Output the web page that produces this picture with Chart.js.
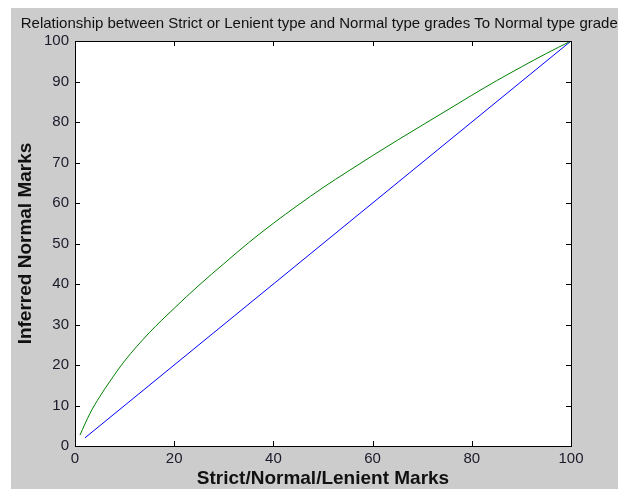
<!DOCTYPE html>
<html>
<head>
<meta charset="utf-8">
<script src="https://cdn.jsdelivr.net/npm/chart.js@4/dist/chart.umd.min.js"></script>
<style>
  html, body { margin: 0; padding: 0; background: #fff; }
  canvas { display: block; }
</style>
</head>
<body>
<canvas id="grafico" width="618" height="489"></canvas>
<script>
// curva verde
const greenX = [1, 3, 5, 7, 10, 15, 20, 25, 30, 35, 40, 45, 50, 55, 60, 65, 70, 75, 80, 85, 90, 95, 100];
const greenY = [2.7, 8.0, 12.2, 15.9, 21.0, 28.0, 34.0, 39.7, 45.0, 50.2, 55.0, 59.5, 63.8, 67.8, 71.7, 75.5, 79.2, 82.9, 86.6, 90.2, 93.6, 96.9, 100];

// reta azul
const blueX = [2, 100];
const blueY = [2, 100];

// eixos
const xTicks = [0, 20, 40, 60, 80, 100];
const yTicks = [0, 10, 20, 30, 40, 50, 60, 70, 80, 90, 100];

const titleText = 'Relationship between Strict or Lenient type and Normal type grades To Normal type grades';
const xTitle = 'Strict/Normal/Lenient Marks';
const yTitle = 'Inferred Normal Marks';

const toPoints = (xs, ys) => xs.map((x, i) => ({ x: x, y: ys[i] }));

// fundo cinza, moldura, ticks para dentro e textos
const matlabStyle = {
    id: 'matlabStyle',
    beforeDraw(chart) {
        const ctx = chart.ctx;
        const a = chart.chartArea;
        ctx.save();
        ctx.fillStyle = '#ffffff';
        ctx.fillRect(0, 0, chart.width, chart.height);
        ctx.fillStyle = '#cccccc';
        ctx.fillRect(11, 8, chart.width - 11, chart.height - 8);
        ctx.fillStyle = '#ffffff';
        ctx.fillRect(a.left, a.top, a.right - a.left, a.bottom - a.top);
        ctx.restore();
    },
    afterDraw(chart) {
        const ctx = chart.ctx;
        const a = chart.chartArea;
        const xs = chart.scales.x;
        const ys = chart.scales.y;
        ctx.save();
        ctx.strokeStyle = '#000000';
        ctx.lineWidth = 1;
        ctx.strokeRect(a.left + 0.5, a.top + 0.5, a.right - a.left, a.bottom - a.top);

        ctx.beginPath();
        xTicks.forEach(v => {
            const px = Math.round(xs.getPixelForValue(v)) + 0.5;
            ctx.moveTo(px, a.bottom); ctx.lineTo(px, a.bottom - 5);
            ctx.moveTo(px, a.top); ctx.lineTo(px, a.top + 5);
        });
        yTicks.forEach(v => {
            const py = Math.round(ys.getPixelForValue(v)) + 0.5;
            ctx.moveTo(a.left, py); ctx.lineTo(a.left + 5, py);
            ctx.moveTo(a.right, py); ctx.lineTo(a.right - 5, py);
        });
        ctx.stroke();

        const cx = (a.left + a.right) / 2;
        const cy = (a.top + a.bottom) / 2;
        ctx.fillStyle = '#111111';
        ctx.textAlign = 'center';
        ctx.textBaseline = 'middle';
        ctx.font = '15px "Liberation Sans", Arial, sans-serif';
        ctx.fillText(titleText, cx, 24);

        ctx.font = 'bold 19px "Liberation Sans", Arial, sans-serif';
        ctx.fillText(xTitle, cx, 479);

        ctx.translate(26, cy);
        ctx.rotate(-Math.PI / 2);
        ctx.fillText(yTitle, 0, 0);
        ctx.restore();
    }
};

const tickFont = { family: '"Liberation Sans", Arial, sans-serif', size: 15 };

new Chart(document.getElementById('grafico').getContext('2d'), {
    type: 'scatter',
    data: {
        datasets: [
            {
                data: toPoints(greenX, greenY),
                showLine: true,
                borderColor: '#008000',
                borderWidth: 1,
                pointRadius: 0,
                cubicInterpolationMode: 'monotone'
            },
            {
                data: toPoints(blueX, blueY),
                showLine: true,
                borderColor: '#0000ff',
                borderWidth: 1,
                pointRadius: 0
            }
        ]
    },
    options: {
        responsive: false,
        animation: false,
        layout: { padding: { left: 0, top: 41, right: 47, bottom: 0 } },
        plugins: {
            legend: { display: false },
            tooltip: { enabled: false }
        },
        scales: {
            x: {
                type: 'linear',
                min: 0,
                max: 100,
                afterBuildTicks: s => { s.ticks = xTicks.map(v => ({ value: v })); },
                afterFit: s => { s.height = 43; },
                ticks: { font: tickFont, color: '#1a1a2a', padding: 4, maxRotation: 0 },
                grid: { display: false, drawTicks: false },
                border: { display: false }
            },
            y: {
                type: 'linear',
                min: 0,
                max: 100,
                afterBuildTicks: s => { s.ticks = yTicks.map(v => ({ value: v })); },
                afterFit: s => { s.width = 75; },
                ticks: { font: tickFont, color: '#1a1a2a', padding: 6 },
                grid: { display: false, drawTicks: false },
                border: { display: false }
            }
        }
    },
    plugins: [matlabStyle]
});
</script>
</body>
</html>
